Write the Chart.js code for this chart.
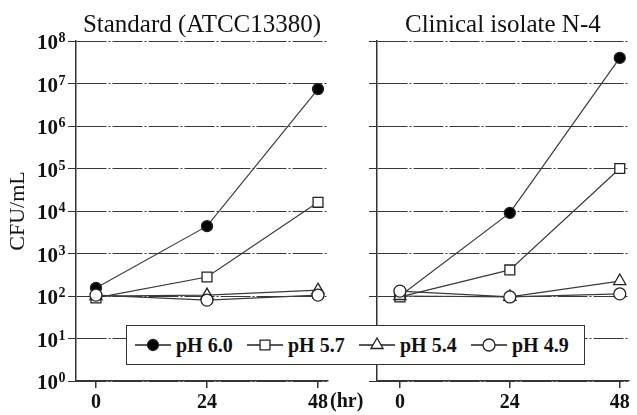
<!DOCTYPE html>
<html lang="en">
<head>
    <meta charset="UTF-8">
    <title>CFU by pH</title>
    <style>
        body { margin: 0; background: #fff; }
        #wrap { position: relative; width: 637px; height: 415px; overflow: hidden; }
        #wrap canvas { position: absolute; top: 0; }
        #legend {
            position: absolute; left: 126px; top: 325px; width: 459px; height: 40px;
            box-sizing: border-box; border: 1.5px solid #333; background: #fff;
            font: bold 20px "Liberation Serif", serif; color: #111;
        }
        #legend .item { position: absolute; top: 0; height: 100%; display: flex; align-items: center; }
        #legend .item canvas { position: static; margin-right: 5px; }
    </style>
</head>
<body>
    <div id="wrap">
        <canvas id="leftChart" width="375" height="415" style="left:0"></canvas>
        <canvas id="rightChart" width="297" height="415" style="left:340px"></canvas>
        <div id="legend"></div>
    </div>
    <script src="https://cdnjs.cloudflare.com/ajax/libs/Chart.js/4.4.1/chart.umd.js"></script>
    <script type="text/javascript">
        // time points (hr) and log tick values
        const hours = [0, 24, 48];
        const xTicks = [0, 24, 48];
        const yTicks = [1, 10, 100, 1e3, 1e4, 1e5, 1e6, 1e7, 1e8];
        const seriesNames = ['pH 6.0', 'pH 5.7', 'pH 5.4', 'pH 4.9'];
        const panelTitles = ['Standard (ATCC13380)', 'Clinical isolate N-4'];

        // CFU/mL
        const standard60 = [155, 4400, 7.4e6];
        const standard57 = [90, 280, 16000];
        const standard54 = [100, 105, 137];
        const standard49 = [105, 80, 105];

        const clinical60 = [100, 9000, 4.0e7];
        const clinical57 = [95, 410, 1.0e5];
        const clinical54 = [100, 95, 225];
        const clinical49 = [130, 95, 112];

        const markers = [
            { pointStyle: 'circle', radius: 5.5, fill: '#000' },
            { pointStyle: 'rect', radius: 7, fill: '#fff' },
            { pointStyle: 'triangle', radius: 7, fill: '#fff' },
            { pointStyle: 'circle', radius: 6, fill: '#fff' }
        ];

        const serif = '"Liberation Serif", "Times New Roman", serif';
        const tickFont = { family: serif, size: 20, weight: 'bold' };

        function makeDatasets(values) {
            return values.map((vals, i) => ({
                label: seriesNames[i],
                data: vals,
                order: values.length - i,   // pH 6.0 underneath, pH 4.9 on top
                borderColor: '#3a3a3a',
                borderWidth: 1.2,
                pointStyle: markers[i].pointStyle,
                pointRadius: markers[i].radius,
                pointBackgroundColor: markers[i].fill,
                pointBorderColor: '#222',
                pointBorderWidth: 1.3,
                tension: 0,
                clip: false
            }));
        }

        // "(hr)" after the last x tick of the left panel
        const hrLabel = {
            id: 'hrLabel',
            afterDraw(chart) {
                const x = chart.scales.x;
                const ctx = chart.ctx;
                ctx.save();
                ctx.font = 'bold 20px ' + serif;
                ctx.fillStyle = '#111';
                ctx.textAlign = 'left';
                ctx.textBaseline = 'middle';
                ctx.fillText('(hr)', x.getPixelForValue(48) + 12, x.bottom - 13);
                ctx.restore();
            }
        };

        // 10^n labels with a raised exponent
        const powerLabels = {
            id: 'powerLabels',
            afterDraw(chart) {
                const y = chart.scales.y;
                const ctx = chart.ctx;
                const right = y.right - 11;
                ctx.save();
                ctx.fillStyle = '#111';
                ctx.textBaseline = 'alphabetic';
                ctx.textAlign = 'left';
                yTicks.forEach(v => {
                    const py = y.getPixelForValue(v);
                    const exp = String(Math.round(Math.log10(v)));
                    ctx.font = 'bold 14px ' + serif;
                    const we = ctx.measureText(exp).width;
                    ctx.font = 'bold 21px ' + serif;
                    const wb = ctx.measureText('10').width;
                    const x0 = right - we - wb;
                    ctx.fillText('10', x0, py + 8);
                    ctx.font = 'bold 14px ' + serif;
                    ctx.fillText(exp, x0 + wb + 0.5, py + 1);
                });
                ctx.restore();
            }
        };

        function makePanel(canvasId, title, values, opt) {
            return new Chart(document.getElementById(canvasId), {
                type: 'line',
                data: { labels: hours, datasets: makeDatasets(values) },
                plugins: opt.showY ? [hrLabel, powerLabels] : [],
                options: {
                    responsive: false,
                    animation: false,
                    layout: { padding: { left: 0, right: opt.padRight, top: 0, bottom: 0 } },
                    plugins: {
                        legend: { display: false },
                        tooltip: { enabled: false },
                        title: {
                            display: true, text: title, fullSize: false, color: '#111',
                            font: { family: serif, size: 25, weight: 'normal' },
                            padding: { top: 10, bottom: 1 }
                        }
                    },
                    scales: {
                        x: {
                            type: 'linear', min: opt.xMin, max: opt.xMax,
                            afterBuildTicks: s => { s.ticks = xTicks.map(v => ({ value: v })); },
                            grid: { drawOnChartArea: false, tickLength: 7, color: '#333', lineWidth: 1.5 },
                            border: { color: '#333', width: 1.5 },
                            ticks: { font: tickFont, color: '#111', padding: 3, maxRotation: 0, autoSkip: false },
                            afterFit: s => { s.height = 34; }
                        },
                        y: {
                            type: 'logarithmic', min: 1, max: 1e8,
                            afterBuildTicks: s => { s.ticks = yTicks.map(v => ({ value: v })); },
                            grid: { color: '#383838', lineWidth: 1, tickColor: '#333', tickLength: 8 },
                            border: { color: '#333', width: 1.5, dash: [30, 2, 2, 2] },
                            ticks: { display: false },
                            title: {
                                display: opt.showY, text: 'CFU/mL', color: '#111',
                                font: { family: serif, size: 22 }, padding: { top: 5, bottom: 0 }
                            },
                            afterFit: s => { s.width = opt.yWidth; }
                        }
                    }
                }
            });
        }

        makePanel('leftChart', panelTitles[0], [standard60, standard57, standard54, standard49],
            { xMin: -4.32, xMax: 50.16, yWidth: 76, padRight: 375 - 328, showY: true });
        makePanel('rightChart', panelTitles[1], [clinical60, clinical57, clinical54, clinical49],
            { xMin: -5.0, xMax: 49.95, yWidth: 37, padRight: 7, showY: false });

        // shared legend box across both panels
        const legend = document.getElementById('legend');
        seriesNames.forEach((name, i) => {
            const item = document.createElement('div');
            item.className = 'item';
            item.style.left = (8 + i * 112) + 'px';
            const sym = document.createElement('canvas');
            sym.width = 36; sym.height = 20;
            const c = sym.getContext('2d');
            c.strokeStyle = '#222'; c.lineWidth = 1.5;
            c.beginPath(); c.moveTo(0, 10); c.lineTo(36, 10); c.stroke();
            c.fillStyle = markers[i].fill; c.strokeStyle = '#222'; c.lineWidth = 1.3;
            Chart.helpers.drawPoint(c, { pointStyle: markers[i].pointStyle, radius: markers[i].radius, rotation: 0, borderWidth: 1.3 }, 18, 10);
            item.appendChild(sym);
            const label = document.createElement('span');
            label.textContent = name;
            item.appendChild(label);
            legend.appendChild(item);
        });
    </script>
</body>
</html>
